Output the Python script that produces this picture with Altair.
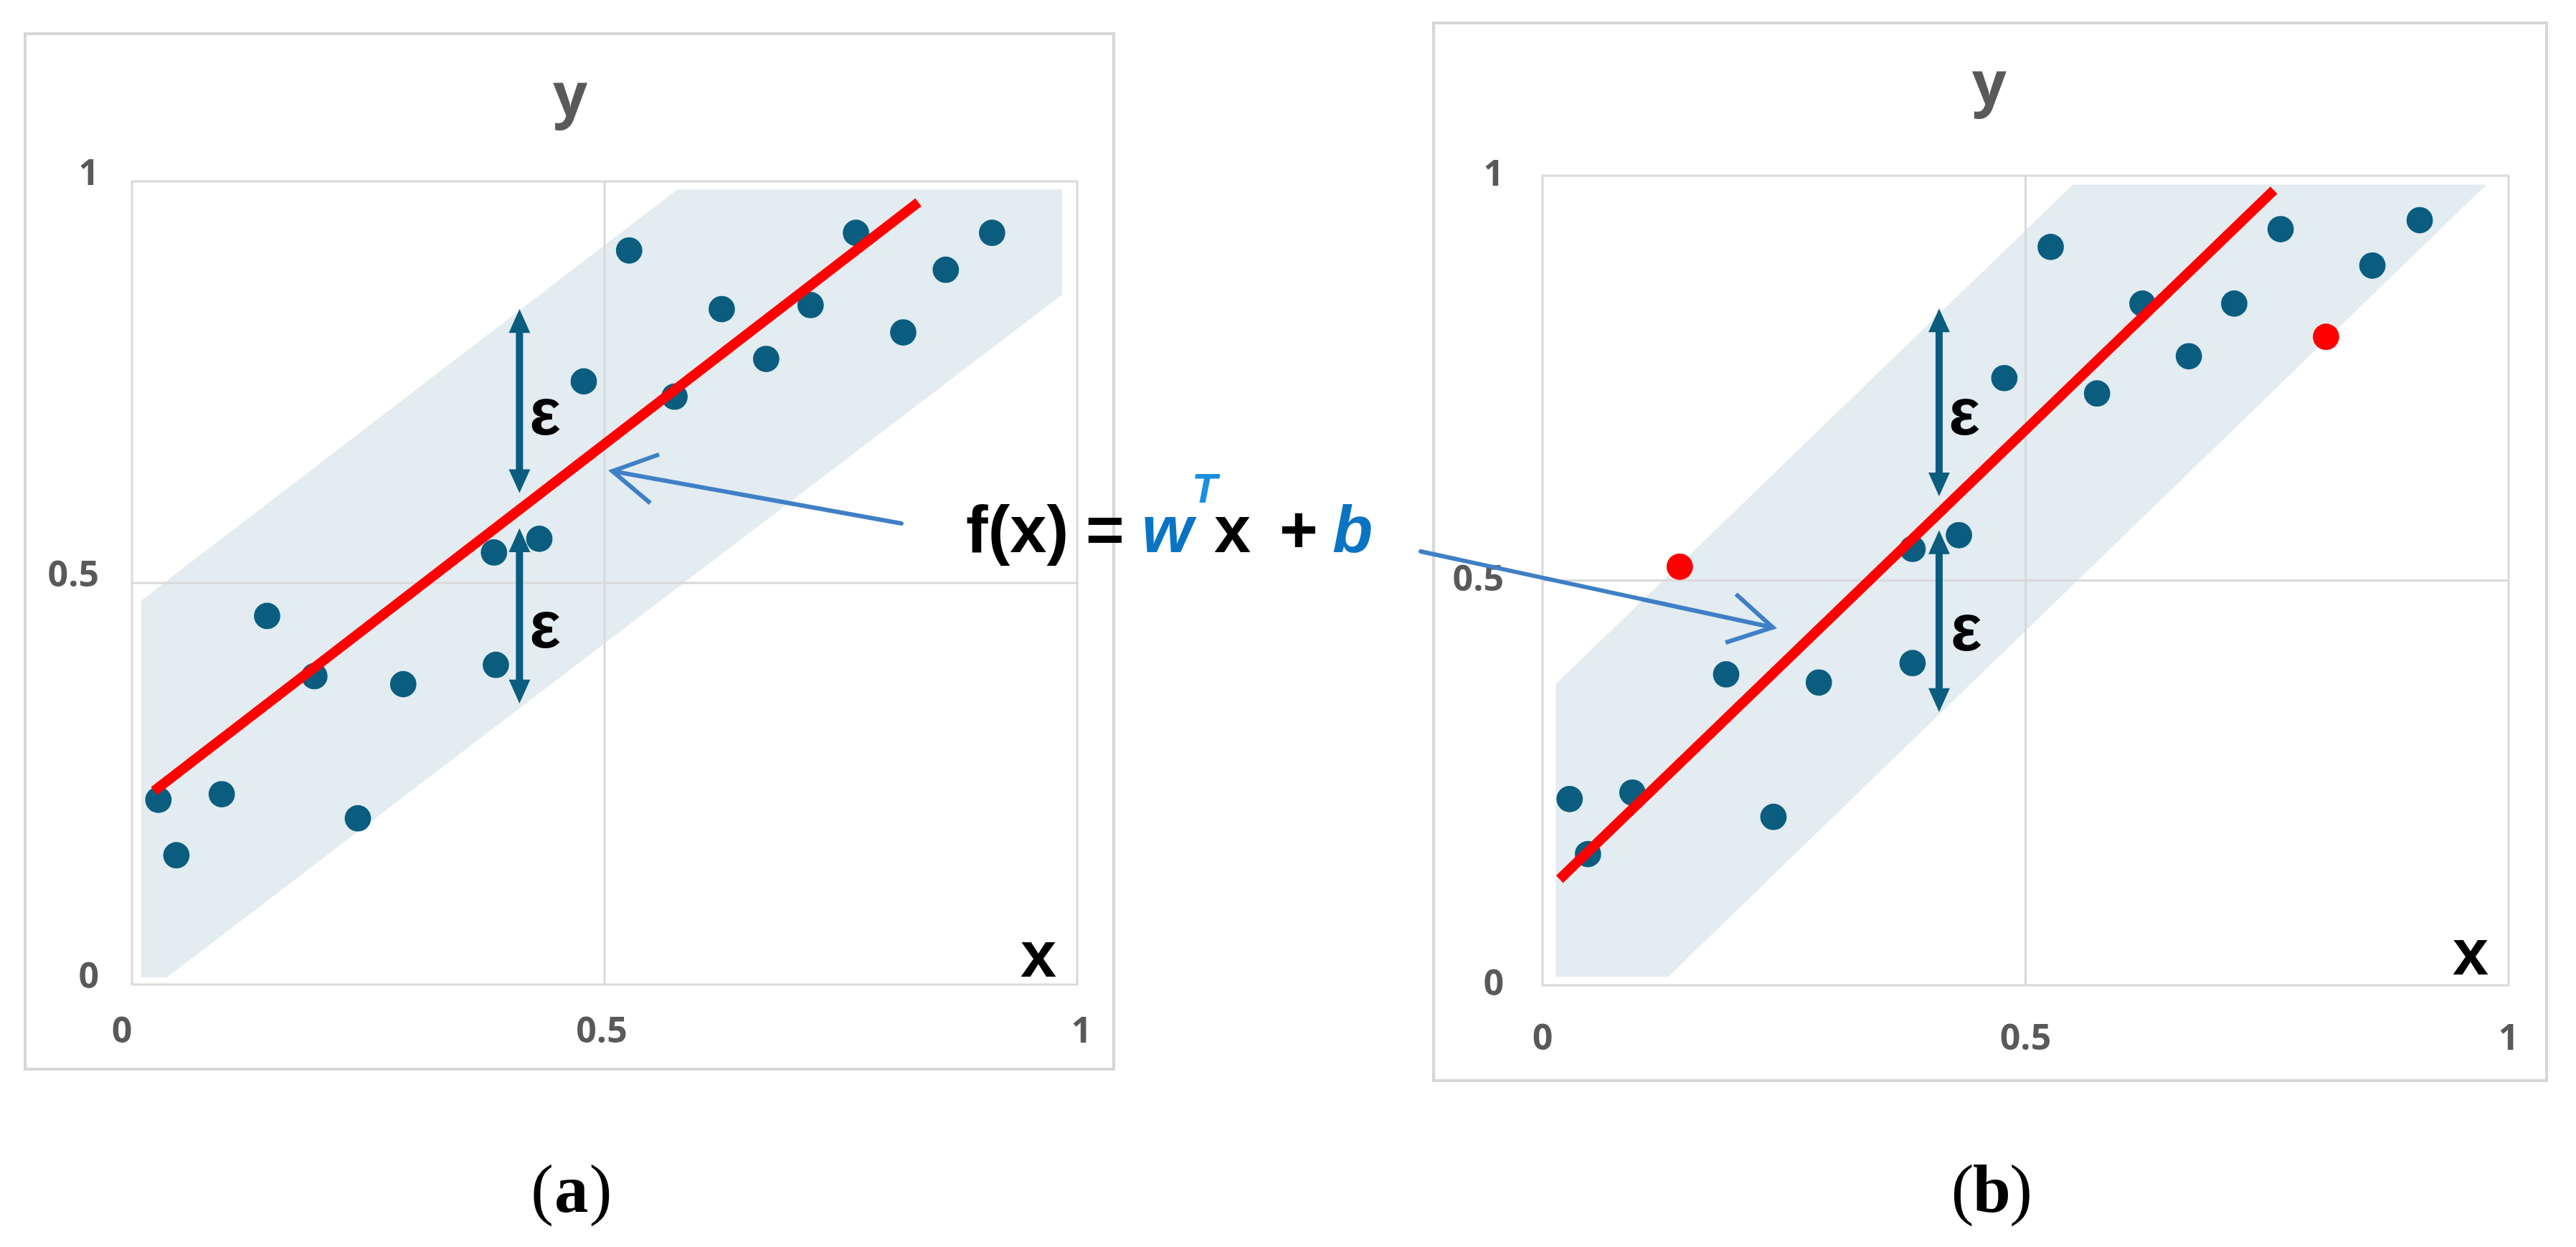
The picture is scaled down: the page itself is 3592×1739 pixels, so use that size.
import math
import altair as alt
import pandas as pd

# ---------------- values ----------------
tick_values = [0, 0.5, 1]
tick_labels = ["0", "0.5", "1"]

# panel (a) observations
a_x = [0.028, 0.047, 0.095, 0.143, 0.193, 0.239, 0.287, 0.383, 0.385, 0.431,
       0.478, 0.526, 0.574, 0.624, 0.671, 0.718, 0.766, 0.816, 0.861, 0.910]
a_y = [0.230, 0.161, 0.237, 0.459, 0.384, 0.207, 0.374, 0.538, 0.398, 0.555,
       0.751, 0.914, 0.732, 0.841, 0.779, 0.846, 0.936, 0.812, 0.890, 0.936]
a_kind = ["inlier"] * 20

# panel (b) observations (two outliers in red)
b_x = [0.028, 0.047, 0.093, 0.142, 0.190, 0.239, 0.286, 0.383, 0.383, 0.431,
       0.478, 0.526, 0.574, 0.621, 0.669, 0.716, 0.764, 0.811, 0.859, 0.908]
b_y = [0.230, 0.162, 0.238, 0.517, 0.384, 0.208, 0.374, 0.539, 0.398, 0.556,
       0.750, 0.912, 0.731, 0.842, 0.777, 0.842, 0.934, 0.801, 0.889, 0.945]
b_kind = ["inlier"] * 3 + ["outlier"] + ["inlier"] * 13 + ["outlier"] + ["inlier"] * 2

# fitted line f(x) = w^T x + b
a_fit_x = [0.0234, 0.832]
a_fit_y = [0.241, 0.974]
b_fit_x = [0.0176, 0.757]
b_fit_y = [0.131, 0.982]

# epsilon tube (band) outline
a_band_x = [0.0097, 0.037, 0.577, 0.984]
a_band_lo = [0.009, 0.009, 0.494, 0.859]
a_band_hi = [0.478, 0.503, 0.990, 0.990]
b_band_x = [0.0136, 0.130, 0.549, 0.977]
b_band_lo = [0.0105, 0.0105, 0.4945, 0.989]
b_band_hi = [0.372, 0.506, 0.989, 0.989]

# epsilon double arrows (x, top, bottom)
a_eps_x = 0.410
a_eps_top = [0.841, 0.568]
a_eps_bot = [0.612, 0.350]
b_eps_x = 0.4105
b_eps_top = [0.836, 0.562]
b_eps_bot = [0.604, 0.3375]

# ---------------- layout ----------------
W, H = 3560, 1712
M = 8  # page margin
PANEL = {
    "a": dict(x0=184, x1=1502, y0=1373, y1=253),
    "b": dict(x0=2151, x1=3498, y0=1374, y1=245),
}


def make_scales(p):
    g = PANEL[p]
    kx = g["x1"] - g["x0"]
    sx0 = g["x0"] - M
    xd = [(0 - sx0) / kx, (W - sx0) / kx]
    ky = g["y1"] - g["y0"]
    sy0 = g["y0"] - M
    yd = sorted([(0 - sy0) / ky, (H - sy0) / ky])
    return (alt.Scale(domain=xd, nice=False, zero=False),
            alt.Scale(domain=yd, nice=False, zero=False))


SC = {p: make_scales(p) for p in PANEL}


def X(p, f="x"):
    return alt.X(f"{f}:Q", scale=SC[p][0], axis=None)


def Y(p, f="y"):
    return alt.Y(f"{f}:Q", scale=SC[p][1], axis=None)


def px_angle(p, tail, tip):
    g = PANEL[p]
    kx = g["x1"] - g["x0"]
    ky = g["y0"] - g["y1"]
    dx = (tip[0] - tail[0]) * kx
    dy = -(tip[1] - tail[1]) * ky
    return math.degrees(math.atan2(dy, dx)) % 360


GRID = "#d9d9d9"
TEAL = "#0a5d7f"
RED = "#ff0000"
BAND = "#e2ecf1"
BLUE = "#0a74c4"
ARROW = "#3f7fc6"
LABEL = "#595959"

UP = "M0,0L-0.9,2L0.9,2Z"
DOWN = "M0,0L-0.9,-2L0.9,-2Z"
CHEV = "M-2,-1.15L0,0L-2,1.15"

# annotation placements, in each panel's own units
box = {"a": (-0.1131, 1.0387, -0.1054, 1.1839), "b": (-0.1128, 1.0394, -0.1178, 1.1887)}
ytitle = {"a": (0.4636, 1.081), "b": (0.4625, 1.088)}
xtitle = {"a": (0.959, 0.0098), "b": (0.9607, 0.0133)}
eps_lab = {"a": [(0.437, 0.710), (0.437, 0.445)], "b": [(0.4365, 0.705), (0.4387, 0.438)]}
caption = {"a": (0.465, -0.283, "a"), "b": (0.465, -0.280, "b")}
xlab_dy = {"a": 66, "b": 75}
xlab_dx = {"a": [-14, -4, 6], "b": [0, 0, 0]}
ylab_dx = {"a": -46, "b": -54}
ylab_dy = {"a": -10, "b": -1}

eq_text = ["f(x)", "=", "x", "+", "w", "b", "T"]
eq_x = [0.8824, 1.0091, 1.1449, 1.2140, 1.0683, 1.2701, 1.1214]
eq_y = [0.538, 0.538, 0.538, 0.538, 0.538, 0.538, 0.600]
eq_style = ["plain", "plain", "plain", "plain", "coef", "coef", "sup"]

arrows = {"a": ((0.8141, 0.5741), (0.5083, 0.6393)),
          "b": ((-0.1262, 0.5359), (0.2383, 0.4420))}

data = {
    "a": dict(x=a_x, y=a_y, kind=a_kind, fx=a_fit_x, fy=a_fit_y,
              bx=a_band_x, blo=a_band_lo, bhi=a_band_hi,
              ex=a_eps_x, etop=a_eps_top, ebot=a_eps_bot),
    "b": dict(x=b_x, y=b_y, kind=b_kind, fx=b_fit_x, fy=b_fit_y,
              bx=b_band_x, blo=b_band_lo, bhi=b_band_hi,
              ex=b_eps_x, etop=b_eps_top, ebot=b_eps_bot),
}

layers = []
for p in ["a", "b"]:
    d = data[p]
    g = PANEL[p]
    ky_px = g["y0"] - g["y1"]

    bx0, bx1, by0, by1 = box[p]
    layers.append(alt.Chart(pd.DataFrame({"x": [bx0], "x2": [bx1], "y": [by0], "y2": [by1]}))
                  .mark_rect(fill="#ffffff", stroke="#d6d6d6", strokeWidth=4)
                  .encode(x=X(p), x2="x2:Q", y=Y(p), y2="y2:Q"))

    layers.append(alt.Chart(pd.DataFrame({"x": d["bx"], "lo": d["blo"], "hi": d["bhi"]}))
                  .mark_area(color=BAND, opacity=1, interpolate="linear")
                  .encode(x=X(p), y=Y(p, "lo"), y2="hi:Q"))

    grid_df = pd.DataFrame({"x": [0.5, 0], "x2": [0.5, 1], "y": [0, 0.5], "y2": [1, 0.5]})
    layers.append(alt.Chart(grid_df).mark_rule(color=GRID, strokeWidth=3)
                  .encode(x=X(p), x2="x2:Q", y=Y(p), y2="y2:Q"))

    layers.append(alt.Chart(pd.DataFrame({"x": [0], "x2": [1], "y": [0], "y2": [1]}))
                  .mark_rect(fillOpacity=0, stroke=GRID, strokeWidth=3)
                  .encode(x=X(p), x2="x2:Q", y=Y(p), y2="y2:Q"))

    # tick labels
    for i, (tv, tl) in enumerate(zip(tick_values, tick_labels)):
        layers.append(alt.Chart(pd.DataFrame({"x": [tv], "y": [0], "t": [tl]}))
                      .mark_text(font="Open Sans", fontSize=50, fontWeight="bold", color=LABEL,
                                 align="center", baseline="middle", dy=xlab_dy[p], dx=xlab_dx[p][i])
                      .encode(x=X(p), y=Y(p), text="t:N"))
    layers.append(alt.Chart(pd.DataFrame({"x": [0] * 3, "y": tick_values, "t": tick_labels}))
                  .mark_text(font="Open Sans", fontSize=50, fontWeight="bold", color=LABEL,
                             align="right", baseline="middle", dx=ylab_dx[p], dy=ylab_dy[p])
                  .encode(x=X(p), y=Y(p), text="t:N"))

    # points
    layers.append(alt.Chart(pd.DataFrame({"x": d["x"], "y": d["y"], "kind": d["kind"]}))
                  .mark_circle(size=1350, opacity=1)
                  .encode(x=X(p), y=Y(p),
                          color=alt.Color("kind:N", legend=None,
                                          scale=alt.Scale(domain=["inlier", "outlier"],
                                                          range=[TEAL, RED]))))

    # regression line
    layers.append(alt.Chart(pd.DataFrame({"x": d["fx"], "y": d["fy"]}))
                  .mark_line(color=RED, strokeWidth=14, strokeCap="butt")
                  .encode(x=X(p), y=Y(p)))

    # epsilon double arrows
    hh = 24 / ky_px
    shafts = pd.DataFrame({"x": [d["ex"]] * 2,
                           "y": [b + hh for b in d["ebot"]],
                           "y2": [t - hh for t in d["etop"]]})
    layers.append(alt.Chart(shafts).mark_rule(color=TEAL, strokeWidth=10)
                  .encode(x=X(p), y=Y(p), y2="y2:Q"))
    heads = pd.DataFrame({"x": [d["ex"]] * 4,
                          "y": d["etop"] + d["ebot"],
                          "dir": ["up", "up", "down", "down"]})
    layers.append(alt.Chart(heads).mark_point(filled=True, size=1100, opacity=1, color=TEAL,
                                              strokeWidth=0)
                  .encode(x=X(p), y=Y(p),
                          shape=alt.Shape("dir:N", legend=None,
                                          scale=alt.Scale(domain=["up", "down"], range=[UP, DOWN]))))
    el = eps_lab[p]
    layers.append(alt.Chart(pd.DataFrame({"x": [e[0] for e in el], "y": [e[1] for e in el],
                                          "t": ["ε", "ε"]}))
                  .mark_text(font="Liberation Sans", fontSize=92, fontWeight="bold", color="#000000",
                             align="center", baseline="middle")
                  .encode(x=X(p), y=Y(p), text="t:N"))

    # axis titles
    tx, ty = ytitle[p]
    layers.append(alt.Chart(pd.DataFrame({"x": [tx], "y": [ty], "t": ["y"]}))
                  .mark_text(font="Open Sans", fontSize=84, fontWeight="bold", color=LABEL,
                             align="center", baseline="alphabetic")
                  .encode(x=X(p), y=Y(p), text="t:N"))
    tx, ty = xtitle[p]
    layers.append(alt.Chart(pd.DataFrame({"x": [tx], "y": [ty], "t": ["x"]}))
                  .mark_text(font="Liberation Sans", fontSize=90, fontWeight="bold", color="#000000",
                             align="center", baseline="alphabetic")
                  .encode(x=X(p), y=Y(p), text="t:N"))

    # caption (a) / (b)
    cx, cy, letter = caption[p]
    layers.append(alt.Chart(pd.DataFrame({"x": [cx], "y": [cy], "t": [letter]}))
                  .mark_text(font="Liberation Serif", fontSize=95, fontWeight="bold", color="#000000",
                             align="center", baseline="alphabetic")
                  .encode(x=X(p), y=Y(p), text="t:N"))
    layers.append(alt.Chart(pd.DataFrame({"x": [cx], "y": [cy], "t": ["("]}))
                  .mark_text(font="Liberation Serif", fontSize=95, color="#000000",
                             align="right", baseline="alphabetic", dx=-25)
                  .encode(x=X(p), y=Y(p), text="t:N"))
    layers.append(alt.Chart(pd.DataFrame({"x": [cx], "y": [cy], "t": [")"]}))
                  .mark_text(font="Liberation Serif", fontSize=95, color="#000000",
                             align="left", baseline="alphabetic", dx=25)
                  .encode(x=X(p), y=Y(p), text="t:N"))

    # annotation arrow from the equation
    tail, tip = arrows[p]
    layers.append(alt.Chart(pd.DataFrame({"x": [tail[0], tip[0]], "y": [tail[1], tip[1]]}))
                  .mark_line(color=ARROW, strokeWidth=6, strokeCap="round")
                  .encode(x=X(p), y=Y(p)))
    layers.append(alt.Chart(pd.DataFrame({"x": [tip[0]], "y": [tip[1]]}))
                  .mark_point(shape=CHEV, filled=False, size=3600, strokeWidth=6, opacity=1,
                              color=ARROW, angle=px_angle(p, tail, tip))
                  .encode(x=X(p), y=Y(p)))

# equation f(x) = w^T x + b, placed in panel (a) units
eq = pd.DataFrame({"x": eq_x, "y": eq_y, "t": eq_text, "s": eq_style})
styles = {
    "plain": dict(fontSize=92, fontWeight="bold", color="#000000"),
    "coef": dict(fontSize=92, fontWeight="bold", fontStyle="italic", color=BLUE),
    "sup": dict(fontSize=58, fontWeight="bold", fontStyle="italic", color="#1a8fe0"),
}
for s, props in styles.items():
    layers.append(alt.Chart(eq[eq["s"] == s])
                  .mark_text(font="Liberation Sans", align="left", baseline="alphabetic", **props)
                  .encode(x=X("a"), y=Y("a"), text="t:N"))

chart = (alt.layer(*layers)
         .resolve_scale(x="independent", y="independent")
         .properties(width=W, height=H, padding=0,
                     autosize=alt.AutoSizeParams(type="none"), background="white")
         .configure_view(strokeWidth=0))

chart.save("out.html", embed_options={"renderer": "svg", "actions": False})
